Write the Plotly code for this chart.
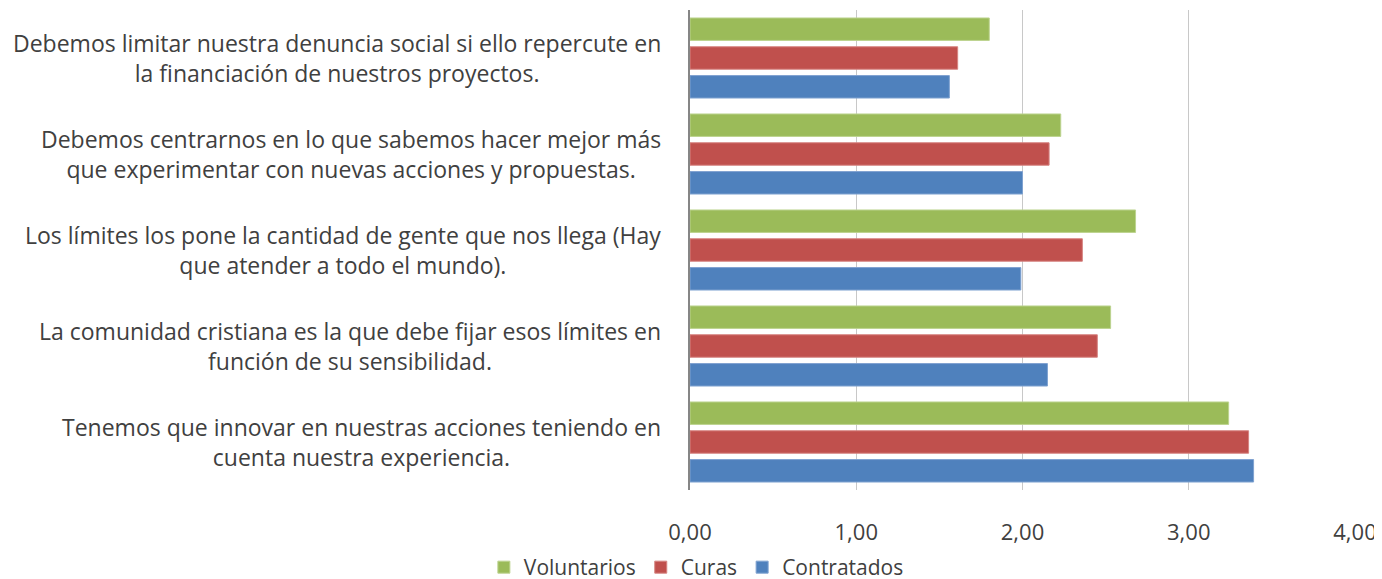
import plotly.graph_objects as go

# categories, bottom to top (plotly puts the first category at the bottom)
categorias = [
    "Tenemos que innovar en nuestras acciones teniendo en<br>cuenta nuestra experiencia.",
    "La comunidad cristiana es la que debe fijar esos límites en<br>función de su sensibilidad.",
    "Los límites los pone la cantidad de gente que nos llega (Hay<br>que atender a todo el mundo).",
    "Debemos centrarnos en lo que sabemos hacer mejor más<br>que experimentar con nuevas acciones y propuestas.",
    "Debemos limitar nuestra denuncia social si ello repercute en<br>la financiación de nuestros proyectos.",
]
ids = ["c1", "c2", "c3", "c4", "c5"]

contratados = [3.39, 2.15, 1.99, 2.00, 1.56]
curas = [3.36, 2.45, 2.36, 2.16, 1.61]
voluntarios = [3.24, 2.53, 2.68, 2.23, 1.80]

x_ticks = [0, 1, 2, 3, 4]
x_labels = ["0,00", "1,00", "2,00", "3,00", "4,00"]

fuente = "'Open Sans', 'Noto Sans', sans-serif"

fig = go.Figure()
fig.add_trace(go.Bar(y=ids, x=contratados, orientation="h", name="Contratados",
                     marker=dict(color="#4F81BD", line=dict(color="#7FA2D0", width=1))))
fig.add_trace(go.Bar(y=ids, x=curas, orientation="h", name="Curas",
                     marker=dict(color="#C0504D", line=dict(color="#D68481", width=1))))
fig.add_trace(go.Bar(y=ids, x=voluntarios, orientation="h", name="Voluntarios",
                     marker=dict(color="#9BBB59", line=dict(color="#BCD38F", width=1))))

# category labels: block right-aligned, lines centred
for cid, texto in zip(ids, categorias):
    fig.add_annotation(x=-0.04, y=cid, xref="paper", yref="y", text=texto,
                       showarrow=False, xanchor="right", yanchor="middle", align="center",
                       font=dict(family=fuente, size=23, color="#404040"))

# the page body has an 8px margin; the figure runs a little past the bottom
# of the window so the legend can sit as low as in the original
fig.update_layout(
    width=1374, height=580,
    barmode="group", bargap=0.1, bargroupgap=0.22,
    plot_bgcolor="white", paper_bgcolor="white",
    margin=dict(l=682, r=27, t=2, b=98),
    font=dict(family=fuente, size=22, color="#404040"),
    xaxis=dict(range=[0, 4], tickvals=x_ticks, ticktext=x_labels,
               showgrid=True, gridcolor="#C8C8C8", gridwidth=1,
               zeroline=False, showline=False, ticks="",
               ticklabelstandoff=27, tickfont=dict(size=22)),
    yaxis=dict(showticklabels=False, showgrid=False, zeroline=False,
               showline=True, linecolor="#868686", linewidth=1.5),
    legend=dict(orientation="h", x=0.501, xanchor="center", xref="container",
                y=0, yanchor="bottom", yref="container",
                traceorder="reversed", font=dict(size=21),
                itemwidth=30),
    showlegend=True,
)

fig.write_html("out.html")
